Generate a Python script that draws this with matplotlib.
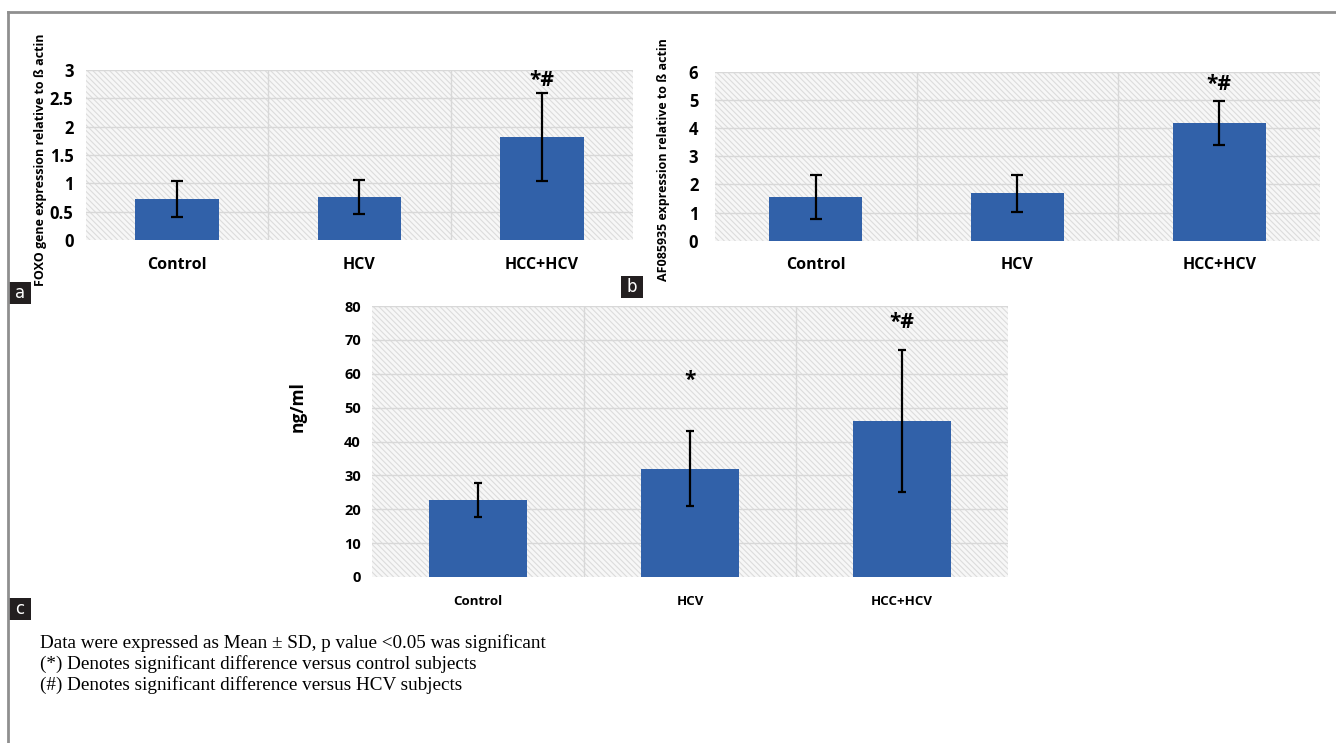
import matplotlib
matplotlib.use('Agg')
import matplotlib.pyplot as plt
from matplotlib.patches import Rectangle
from matplotlib.lines import Line2D

categories = ['Control', 'HCV', 'HCC+HCV']

# panel a: FOXO gene expression
foxo_mean = [0.73, 0.76, 1.82]
foxo_sd = [0.32, 0.30, 0.77]
foxo_marks = ['', '', '*#']

# panel b: AF085935 expression
af_mean = [1.55, 1.68, 4.17]
af_sd = [0.78, 0.66, 0.79]
af_marks = ['', '', '*#']

# panel c: ng/ml
ng_mean = [22.7, 32.0, 46.0]
ng_sd = [5.1, 11.0, 21.0]
ng_marks = ['', '*', '*#']

W, H = 1336, 743
fig = plt.figure(figsize=(W / 100, H / 100), dpi=100)
sans = 'Open Sans'
bar_color = '#3161a9'
plt.rcParams['hatch.linewidth'] = 0.8


def px_axes(x0, y0, x1, y1):
    return fig.add_axes([x0 / W, 1 - y1 / H, (x1 - x0) / W, (y1 - y0) / H])


def panel(ax, mean, sd, marks, ymax, step, mark_y, tick_fs, cat_fs, tick_pad, cat_pad, cap):
    ax.set_facecolor('#f7f7f7')
    ax.add_patch(Rectangle((0, 0), 1, 1, transform=ax.transAxes, facecolor='#f7f7f7',
                           edgecolor='#dcdcdc', hatch='\\\\\\\\\\\\', lw=0, zorder=0))
    x = list(range(len(categories)))
    ax.bar(x, mean, width=0.46, color=bar_color, zorder=3)
    ax.errorbar(x, mean, yerr=sd, fmt='none', ecolor='black', elinewidth=1.6,
                capsize=cap, capthick=1.6, zorder=4)
    for xi, m in zip(x, marks):
        if m:
            ax.text(xi, mark_y, m, ha='center', va='center', fontsize=15,
                    fontweight='bold', family=sans, zorder=5)
    ax.set_xlim(-0.5, 2.5)
    ax.set_ylim(0, ymax)
    ticks = [i * step for i in range(int(round(ymax / step)) + 1)]
    ax.set_yticks(ticks)
    ax.set_yticklabels([('%g' % t) for t in ticks], fontsize=tick_fs,
                       fontweight='bold', family=sans)
    ax.set_xticks(x)
    ax.set_xticklabels(categories, fontsize=cat_fs, fontweight='bold', family=sans)
    ax.tick_params(axis='y', length=0, pad=tick_pad)
    ax.tick_params(axis='x', length=0, pad=cat_pad)
    for t in ticks[1:]:
        ax.axhline(t, color='#d8d8d8', lw=1.0, zorder=1)
    for v in [0.5, 1.5]:
        ax.axvline(v, color='#d8d8d8', lw=1.0, zorder=1)
    for s in ax.spines.values():
        s.set_visible(False)


ax_a = px_axes(86, 70, 633, 240)
panel(ax_a, foxo_mean, foxo_sd, foxo_marks, 3, 0.5, 2.82, 12, 11.5, 9, 12, 4)

ax_b = px_axes(715, 71.7, 1320, 240.7)
panel(ax_b, af_mean, af_sd, af_marks, 6, 1, 5.55, 12, 11.5, 12, 12, 4)

ax_c = px_axes(372, 306, 1008, 577)
panel(ax_c, ng_mean, ng_sd, ng_marks, 80, 10, 58, 10.5, 9.5, 8, 13, 3)
ax_c.texts[-1].set_position((2, 75))

# y labels
fig.text(41 / W, 1 - 160 / H, 'FOXO gene expression relative to \u00df actin', rotation=90,
         ha='center', va='center', fontsize=9, fontweight='bold', family=sans)
fig.text(663 / W, 1 - 160 / H, 'AF085935 expression relative to \u00df actin', rotation=90,
         ha='center', va='center', fontsize=9, fontweight='bold', family=sans)
fig.text(298 / W, 1 - 407 / H, 'ng/ml', rotation=90,
         ha='center', va='center', fontsize=12.5, fontweight='bold', family=sans)

# panel letters
for letter, x0, y0 in [('a', 9, 282), ('b', 621, 276), ('c', 9, 598)]:
    fig.patches.append(Rectangle((x0 / W, 1 - (y0 + 22) / H), 22 / W, 22 / H,
                                 transform=fig.transFigure, facecolor='#231f20',
                                 edgecolor='none'))
    fig.text((x0 + 11) / W, 1 - (y0 + 11) / H, letter, color='white', ha='center',
             va='center', fontsize=12, family='DejaVu Sans')

# frame
fig.lines.append(Line2D([8 / W, 8 / W], [0, 1 - 12 / H], transform=fig.transFigure,
                        color='#8f8f8f', lw=2))
fig.lines.append(Line2D([8 / W, 1], [1 - 12 / H, 1 - 12 / H], transform=fig.transFigure,
                        color='#8f8f8f', lw=2))

notes = ['Data were expressed as Mean \u00b1 SD, p value <0.05 was significant',
         '(*) Denotes significant difference versus control subjects',
         '(#) Denotes significant difference versus HCV subjects']
for i, line in enumerate(notes):
    fig.text(40 / W, 1 - (643 + 21 * i) / H, line, ha='left', va='center',
             fontsize=13.8, family='Liberation Serif')

fig.savefig('out.png', dpi=100)
